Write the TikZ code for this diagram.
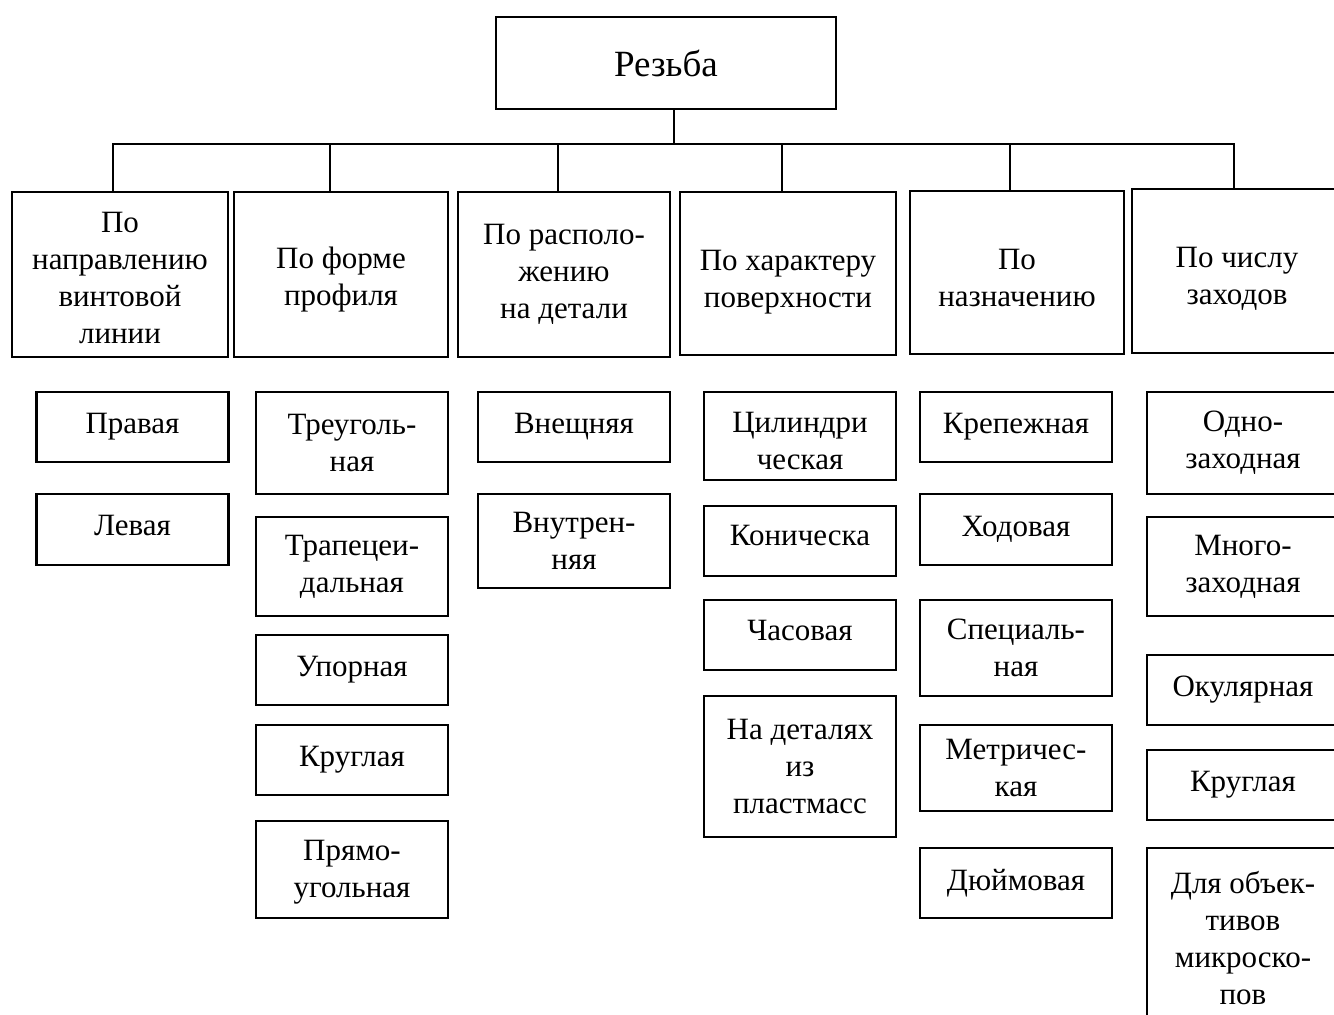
\documentclass[tikz,border=0pt]{standalone}
\usepackage{fontspec}
\setmainfont{Liberation Serif}
\usepackage{tikz}

\begin{document}
\begin{tikzpicture}[
        x=1pt, y=-1pt,
        font=\fontsize{31}{37}\selectfont,
        box/.style={draw, line width=2.2pt, align=center, inner sep=2pt},
        group/.style={box, minimum height=165pt},
        item/.style={box, minimum width=192pt, minimum height=70pt},
        link/.style={line width=2.2pt}
    ]
        \useasboundingbox (0,0) rectangle (1334,1015);
        \clip (0,0) rectangle (1334,1015);

        \node[box, minimum width=340pt, minimum height=92pt, font=\fontsize{37}{44}\selectfont] (root) at (666,63) {Резьба};
        \coordinate (bus) at (674,144);

        % level 1
        \node[group, minimum width=216pt, text height=137.5pt] (dir) at (120,274.5) {По\\направлению\\винтовой\\линии};
        \node[group, minimum width=214pt, text height=68pt] (prof) at (341,274.5) {По форме\\профиля};
        \node[group, minimum width=212pt] (place) at (564,274.5) {По располо-\\жению\\на детали};
        \node[group, minimum width=216pt, minimum height=163pt, text height=75.5pt] (surf) at (788,273.5) {По характеру\\поверхности};
        \node[group, minimum width=214pt, minimum height=163pt, text height=67.5pt] (purp) at (1017,272.5) {По\\назначению};
        \node[group, minimum width=210pt, minimum height=164pt, text height=73.5pt] (num) at (1237,271) {По числу\\заходов};

        \draw[link] ([xshift=8pt]root.south) -- (bus);
        \draw[link] ([xshift=-7pt]dir.north) |- (bus);
        \draw[link] ([xshift=-11pt]prof.north) |- (bus);
        \draw[link] ([xshift=-6pt]place.north) |- (bus);
        \draw[link] ([xshift=-6pt]surf.north) |- (bus);
        \draw[link] ([xshift=-7pt]purp.north) |- (bus);
        \draw[link] ([xshift=-3pt]num.north) |- (bus);

        % direction
        \node[item] (right) at (132.5,427) {Правая};
        \node[item, minimum height=71pt, text depth=8pt] (left) at (132.5,529.5) {Левая};

        % profile
        \node[item, minimum height=102pt] (tri) at (352,443) {Треуголь-\\ная};
        \node[item, minimum height=99pt] (trap) at (352,566.5) {Трапецеи-\\дальная};
        \node[item] (stop) at (352,670) {Упорная};
        \node[item] (round) at (352,760) {Круглая};
        \node[item, minimum height=97pt, text height=63.5pt] (rect) at (352,869.5) {Прямо-\\угольная};

        % placement
        \node[item] (outer) at (574,427) {Внещняя};
        \node[item, minimum height=94pt] (inner) at (574,541) {Внутрен-\\няя};

        % surface
        \node[item, minimum height=88pt, text height=66.5pt] (cyl) at (800,436) {Цилиндри\\ческая};
        \node[item, text depth=12pt] (cone) at (800,541) {Коническа};
        \node[item, text depth=8.7pt] (watch) at (800,635) {Часовая};
        \node[item, minimum height=141pt] (plast) at (800,766.5) {На деталях\\из\\пластмасс};

        % purpose
        \node[item] (fix) at (1016,427) {Крепежная};
        \node[item, minimum height=71pt] (move) at (1016,529.5) {Ходовая};
        \node[item, minimum height=96pt] (spec) at (1016,648) {Специаль-\\ная};
        \node[item, minimum height=86pt] (metric) at (1016,768) {Метричес-\\кая};
        \node[item] (inch) at (1016,883) {Дюймовая};

        % number of starts
        \node[item, minimum height=102pt] (single) at (1243,443) {Одно-\\заходная};
        \node[item, minimum height=99pt] (multi) at (1243,566.5) {Много-\\заходная};
        \node[item] (ocular) at (1243,690) {Окулярная};
        \node[item] (round2) at (1243,785) {Круглая};
        \node[item, minimum height=180pt] (micro) at (1243,938) {Для объек-\\тивов\\микроско-\\пов};

    \end{tikzpicture}
\end{document}
